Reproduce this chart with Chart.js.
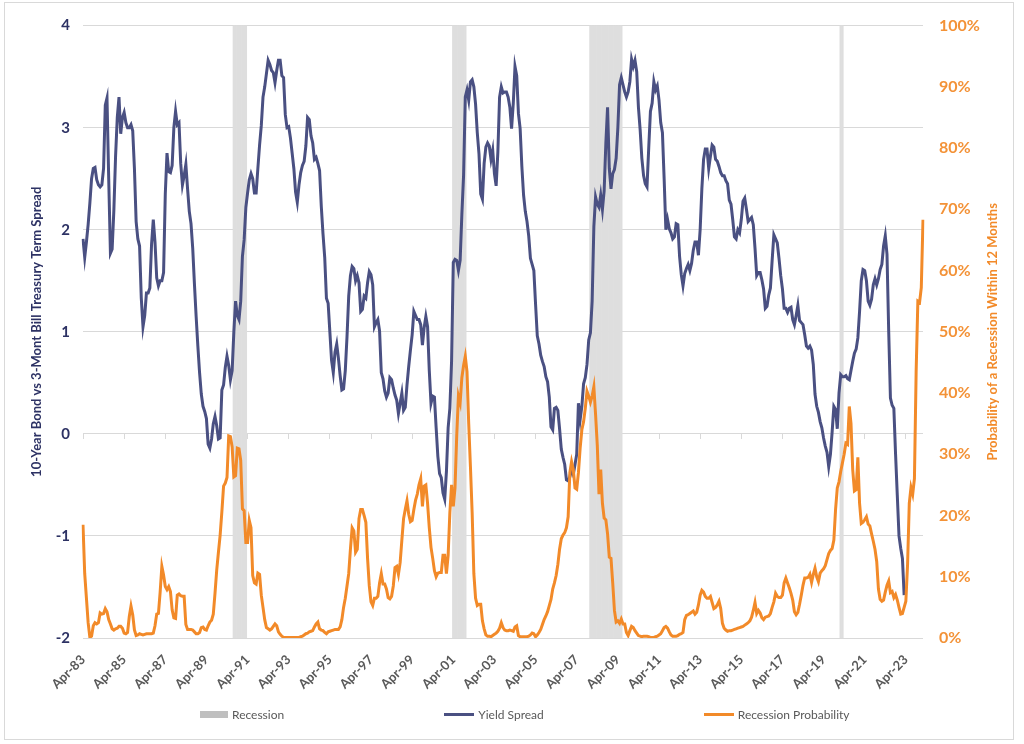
<!DOCTYPE html>
<html>
<head>
<meta charset="utf-8">
<script src="https://cdn.jsdelivr.net/npm/chart.js@4.4.1/dist/chart.umd.min.js"></script>
<style>
  body { margin: 0; background: #fff; }
  #frame { position: absolute; left: 4px; top: 2px; width: 1010px; height: 738px; border: 1px solid #d9d9d9; box-sizing: border-box; }
  #myChart { position: absolute; left: 0; top: 0; }
  #legend { position: absolute; left: 200px; top: 707px; display: flex; gap: 160px; font: 12px Lato, sans-serif; color: #595959; }
  #legend .item { display: flex; align-items: center; white-space: nowrap; }
  #legend .sw { display: inline-block; margin-right: 4px; }
</style>
</head>
<body>
<div id="frame"></div>
<canvas id="myChart" width="1024" height="744"></canvas>
<div id="legend"></div>
<script>
// meses desde abril 1983
const primerMes = 3;
const primerAnio = 1983;
const totalMeses = 491;
const nombresMes = ['Jan','Feb','Mar','Apr','May','Jun','Jul','Aug','Sep','Oct','Nov','Dec'];
const cadaEtiqueta = 24; // una etiqueta cada 2 años

const meses = [];
for (let i = 0; i < totalMeses; i++) {
  const m = (primerMes + i) % 12;
  const a = primerAnio + Math.floor((primerMes + i) / 12);
  meses.push(nombresMes[m] + '-' + String(a).slice(2));
}

// spread 10 años - 3 meses
const spreadValues = [
  1.91,1.73,1.88,2.05,2.26,2.50,2.60,2.61,2.49,2.44,2.42,2.44,
  2.60,3.22,3.29,2.50,1.77,1.81,2.19,2.72,3.10,3.30,2.94,3.10,
  3.15,3.05,3.00,3.00,3.03,2.97,2.60,2.08,1.91,1.84,1.33,1.05,
  1.16,1.38,1.38,1.43,1.86,2.10,1.88,1.53,1.45,1.50,1.50,1.58,
  2.35,2.75,2.57,2.56,2.63,3.00,3.16,3.03,3.05,2.65,2.44,2.53,
  2.64,2.40,2.18,2.06,1.82,1.47,1.15,0.86,0.60,0.39,0.27,0.22,
  0.15,-0.10,-0.14,-0.05,0.10,0.17,0.08,-0.05,-0.04,0.43,0.48,0.65,
  0.76,0.67,0.53,0.62,1.00,1.30,1.16,1.12,1.30,1.74,1.90,2.22,
  2.36,2.49,2.55,2.50,2.36,2.36,2.60,2.83,3.02,3.30,3.40,3.53,
  3.66,3.62,3.56,3.54,3.44,3.56,3.66,3.66,3.51,3.49,3.13,3.00,
  3.01,2.90,2.75,2.60,2.37,2.27,2.44,2.56,2.63,2.67,2.82,3.10,
  3.08,2.92,2.85,2.69,2.71,2.65,2.58,2.23,1.96,1.73,1.33,1.28,
  1.00,0.72,0.60,0.80,0.88,0.74,0.57,0.43,0.44,0.62,0.95,1.35,
  1.55,1.64,1.62,1.50,1.55,1.48,1.20,1.22,1.35,1.33,1.48,1.59,
  1.56,1.46,1.05,1.09,1.12,1.01,0.60,0.54,0.42,0.36,0.40,0.55,
  0.53,0.45,0.38,0.33,0.20,0.30,0.40,0.23,0.26,0.48,0.66,0.82,
  0.97,1.20,1.16,1.12,1.12,1.07,0.87,1.04,1.15,1.05,0.62,0.30,
  0.37,0.36,0.06,-0.22,-0.39,-0.43,-0.58,-0.64,-0.37,0.06,0.25,0.71,
  1.68,1.71,1.70,1.60,1.70,2.15,2.53,3.30,3.37,3.27,3.45,3.47,
  3.40,3.23,2.95,2.74,2.35,2.30,2.65,2.81,2.85,2.82,2.69,2.78,
  2.55,2.43,2.76,3.30,3.40,3.34,3.35,3.35,3.30,3.20,2.99,3.24,
  3.60,3.51,3.14,2.99,2.62,2.34,2.18,2.08,1.94,1.72,1.66,1.60,
  1.27,0.96,0.88,0.77,0.71,0.66,0.56,0.51,0.36,0.07,0.04,0.25,
  0.26,0.23,0.05,-0.15,-0.23,-0.30,-0.45,-0.46,-0.42,-0.35,-0.40,-0.30,
  -0.20,0.30,0.14,0.27,0.49,0.55,0.68,0.92,0.99,1.30,2.03,2.32,
  2.25,2.22,2.34,2.20,2.38,2.85,3.20,2.60,2.40,2.55,2.59,2.70,
  3.00,3.42,3.49,3.42,3.35,3.30,3.35,3.45,3.67,3.60,3.66,3.55,
  3.20,2.98,2.70,2.53,2.45,2.42,2.80,3.16,3.24,3.45,3.37,3.41,
  3.27,3.05,2.95,2.50,2.00,2.10,2.01,1.97,1.91,1.93,2.06,2.05,
  1.74,1.56,1.45,1.57,1.62,1.66,1.60,1.67,1.80,1.88,1.88,1.75,
  2.00,2.40,2.69,2.79,2.79,2.60,2.72,2.83,2.81,2.69,2.67,2.62,
  2.56,2.53,2.53,2.48,2.45,2.29,2.25,2.10,1.93,1.91,2.00,1.97,
  2.10,2.28,2.31,2.20,2.08,2.10,2.12,2.05,1.82,1.55,1.58,1.58,
  1.51,1.42,1.23,1.25,1.36,1.43,1.70,1.95,1.91,1.87,1.72,1.55,
  1.42,1.23,1.23,1.19,1.23,1.24,1.12,1.07,1.16,1.26,1.11,1.09,
  1.07,0.97,0.86,0.84,0.86,0.82,0.68,0.39,0.27,0.21,0.12,0.06,
  -0.04,-0.12,-0.18,-0.32,-0.20,0.02,0.27,0.24,0.05,0.40,0.58,0.56,
  0.56,0.57,0.54,0.53,0.62,0.71,0.79,0.83,0.94,1.20,1.50,1.61,
  1.60,1.50,1.30,1.26,1.32,1.46,1.52,1.46,1.52,1.61,1.66,1.84,
  1.94,1.76,1.00,0.35,0.28,0.25,-0.20,-0.60,-1.00,-1.12,-1.22,-1.58,
  null,null,null,null,null,null,null,null,null,null,null
];

// probabilidad de recesion en 12 meses (%)
const probValues = [
  18.5,10.5,6.5,2.5,0.1,0.3,2.0,2.5,2.3,2.5,4.1,3.9,
  4.0,4.8,4.3,3.0,2.3,1.5,1.3,1.5,1.6,1.9,1.9,1.6,
  0.8,0.7,0.9,3.5,5.2,3.8,1.3,0.4,0.5,0.7,0.6,0.5,
  0.6,0.7,0.7,0.7,0.7,0.8,2.0,3.9,4.0,7.5,11.7,10.3,
  8.4,7.9,8.4,7.6,4.6,3.3,3.2,7.0,7.2,6.9,6.8,6.8,
  2.2,1.4,1.4,1.4,1.3,1.0,0.7,0.7,0.9,1.7,1.8,1.4,
  1.3,2.0,2.6,2.9,3.9,7.3,11.1,14.0,16.8,20.6,24.8,25.3,
  26.2,33.0,32.9,31.2,26.3,26.5,31.0,30.9,29.0,21.1,20.8,15.6,
  15.6,19.2,18.0,10.2,9.0,8.8,10.6,10.4,7.0,5.0,3.0,1.7,
  1.5,1.3,1.5,1.9,2.3,2.0,1.0,0.6,0.3,0.1,0.1,0.1,
  0.1,0.1,0.1,0.1,0.1,0.1,0.1,0.2,0.3,0.5,0.7,0.8,
  1.0,1.1,1.2,1.8,2.3,2.6,1.5,1.3,1.2,0.9,0.7,1.0,
  1.1,1.2,1.3,1.4,1.4,1.4,1.8,3.0,5.0,6.5,8.5,10.5,
  14.5,18.0,17.5,14.0,14.5,19.5,21.0,21.0,20.0,18.9,13.0,8.5,
  5.9,5.3,6.5,6.5,6.8,9.0,10.5,8.8,8.8,8.0,6.6,6.4,
  6.8,8.5,11.5,11.7,10.4,12.3,16.0,19.5,21.0,22.4,20.2,19.0,
  19.2,21.0,22.5,23.5,25.0,26.0,21.5,24.8,25.0,22.0,18.0,14.8,
  13.0,11.0,10.0,10.6,10.7,10.7,13.5,13.5,10.5,13.5,20.5,25.0,
  21.5,24.5,33.0,39.5,38.4,42.5,44.5,46.0,43.5,35.0,28.0,20.5,
  10.5,6.5,5.3,5.5,5.5,2.8,1.5,0.5,0.3,0.3,0.2,0.4,
  0.6,0.8,1.1,1.6,2.5,1.7,1.3,1.2,1.2,1.3,1.2,1.1,
  1.8,2.0,0.4,0.2,0.2,0.2,0.2,0.2,0.3,0.5,0.8,0.7,
  0.2,0.5,0.9,1.4,2.2,3.0,3.6,4.3,5.3,6.3,8.0,9.0,
  10.2,12.0,14.5,16.2,16.8,17.2,18.0,19.8,27.0,28.8,27.5,24.5,
  24.3,27.0,31.0,34.0,35.3,37.5,40.3,39.5,38.5,39.5,41.0,36.5,
  31.5,23.5,27.5,22.0,19.6,19.3,17.0,13.2,13.0,9.0,4.5,2.6,
  2.8,2.4,3.1,2.3,2.3,0.9,0.4,1.2,1.9,1.7,1.2,0.8,
  0.4,0.3,0.2,0.3,0.3,0.3,0.2,0.1,0.1,0.1,0.2,0.3,
  0.5,0.7,1.2,1.7,1.9,1.6,1.0,0.5,0.3,0.3,0.3,0.4,
  0.6,0.7,0.9,3.0,3.7,3.8,4.0,4.2,4.4,3.9,4.2,5.4,
  7.0,7.8,7.5,6.8,6.5,6.5,6.8,5.8,4.8,5.0,5.4,6.0,
  4.8,2.4,1.6,1.3,1.1,1.2,1.2,1.3,1.4,1.5,1.6,1.7,
  1.8,1.9,2.1,2.3,2.5,2.8,3.4,4.5,5.8,4.0,4.5,4.1,
  3.3,3.0,3.4,3.5,3.6,4.0,5.0,5.9,7.3,6.8,6.6,6.6,
  7.0,9.0,9.8,9.0,8.2,7.3,6.2,4.3,3.8,4.2,5.5,7.0,
  8.6,9.8,9.8,9.9,10.4,9.1,10.4,11.4,10.0,9.2,10.6,11.0,
  11.3,11.8,12.8,13.8,14.3,14.6,16.0,21.0,24.5,25.5,27.2,28.6,
  30.0,31.8,31.6,37.8,35.0,27.5,24.0,24.2,29.5,22.0,18.7,18.9,
  19.3,19.8,18.6,18.3,17.0,15.8,14.5,12.5,8.0,6.3,6.0,6.2,
  7.5,8.6,9.3,7.4,7.6,6.6,7.1,6.2,5.0,3.9,4.0,5.0,
  6.0,12.0,22.0,24.6,23.5,26.0,43.5,55.0,54.8,57.2,68.3
];

// periodos de recesion (inicio, fin)
const recesiones = [
  ['Aug-90', 'Mar-91'],
  ['Apr-01', 'Nov-01'],
  ['Dec-07', 'Jun-09'],
  ['Feb-20', 'Mar-20']
];

const ejeIzq = [-2, 4];
const ejeDer = [0, 100];

const azul = '#4a5082';
const azulTexto = '#2d3264';
const naranja = '#f28a29';
const naranjaTexto = '#f39237';
const gris = '#dedede';

// barras de recesion a toda la altura
const barras = meses.map(() => null);
recesiones.forEach(([ini, fin]) => {
  for (let i = meses.indexOf(ini); i <= meses.indexOf(fin); i++) barras[i] = [ejeIzq[0], ejeIzq[1]];
});

// titulo del eje derecho, leido de abajo hacia arriba
const tituloDerecho = {
  id: 'tituloDerecho',
  afterDraw(chart) {
    const {ctx, chartArea} = chart;
    const s = chart.scales.y1;
    ctx.save();
    ctx.translate(s.left + 70, (chartArea.top + chartArea.bottom) / 2);
    ctx.rotate(-Math.PI / 2);
    ctx.font = 'bold 13px Lato';
    ctx.fillStyle = naranja;
    ctx.textAlign = 'center';
    ctx.textBaseline = 'middle';
    ctx.fillText('Probability of a Recession Within 12 Months', 0, 0);
    ctx.restore();
  }
};

const grafica = document.getElementById('myChart').getContext('2d');
const myChart = new Chart(grafica, {
  type: 'line',
  data: {
    labels: meses,
    datasets: [
      { label: 'Recession Probability', data: probValues, yAxisID: 'y1',
        borderColor: naranja, backgroundColor: naranja, borderWidth: 3, pointRadius: 0, tension: 0 },
      { label: 'Yield Spread', data: spreadValues, yAxisID: 'y',
        borderColor: azul, backgroundColor: azul, borderWidth: 3, pointRadius: 0, tension: 0 },
      { type: 'bar', label: 'Recession', data: barras, yAxisID: 'y',
        backgroundColor: gris, borderWidth: 0, barPercentage: 1, categoryPercentage: 1 }
    ]
  },
  options: {
    responsive: false,
    animation: false,
    devicePixelRatio: 1,
    layout: { padding: { top: 21, bottom: 46, left: 0, right: 0 } },
    plugins: { legend: { display: false }, tooltip: { enabled: false } },
    scales: {
      x: {
        type: 'category',
        offset: false,
        grid: { display: false, offset: false },
        border: { display: false },
        ticks: {
          autoSkip: false, minRotation: 45, maxRotation: 45, padding: 6,
          color: '#595959', font: { family: 'Lato', size: 13, weight: 'bold' },
          callback: function (v, i) { return i % cadaEtiqueta === 0 ? this.getLabelForValue(v) : ''; }
        },
        afterFit: s => { s.height = 60; }
      },
      ejeCero: {
        axis: 'x',
        type: 'category',
        position: { y: 0 },
        offset: false,
        border: { display: false },
        grid: {
          offset: false, drawOnChartArea: false, drawTicks: true, tickLength: 5,
          tickColor: c => (c.index % cadaEtiqueta === 0 ? '#d9d9d9' : 'rgba(0,0,0,0)')
        },
        ticks: { display: false, autoSkip: false }
      },
      y: {
        position: 'left',
        min: ejeIzq[0], max: ejeIzq[1],
        ticks: { stepSize: 1, padding: 13, color: azulTexto, font: { family: 'Lato', size: 15, weight: 'bold' } },
        grid: { color: '#d9d9d9', drawTicks: false },
        border: { display: false },
        title: {
          display: true, text: '10-Year Bond vs 3-Mont Bill Treasury Term Spread',
          color: azulTexto, font: { family: 'Lato', size: 13, weight: 'bold' }, padding: { top: 29 }
        },
        afterFit: s => { s.width = 83; }
      },
      y1: {
        position: 'right',
        min: ejeDer[0], max: ejeDer[1],
        ticks: { stepSize: 10, padding: 16, color: naranjaTexto, font: { family: 'Lato', size: 16, weight: 'bold' },
          callback: v => v + '%' },
        grid: { display: false, drawTicks: false },
        border: { display: false },
        afterFit: s => { s.width = 101; }
      }
    }
  },
  plugins: [tituloDerecho]
});

// leyenda abajo
const leyenda = document.getElementById('legend');
[2, 1, 0].forEach(i => {
  const ds = myChart.data.datasets[i];
  const item = document.createElement('span');
  item.className = 'item';
  const sw = document.createElement('span');
  sw.className = 'sw';
  if (ds.type === 'bar') {
    sw.style.cssText = 'width:28px;height:7px;background:#bfbfbf;';
  } else {
    sw.style.cssText = 'width:30px;height:3px;background:' + ds.borderColor + ';';
  }
  item.appendChild(sw);
  item.appendChild(document.createTextNode(ds.label));
  leyenda.appendChild(item);
});
</script>
</body>
</html>
